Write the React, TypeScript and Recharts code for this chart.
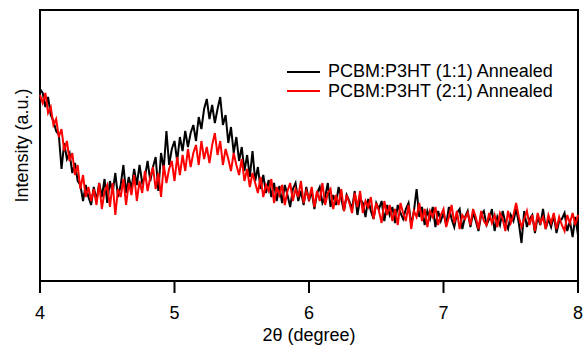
import React from 'react';
import { LineChart, Line, XAxis, YAxis, ReferenceArea } from 'recharts';

const FONT = "Arial, 'Liberation Sans', sans-serif";

// scan grid: 4.00 .. 8.00 deg, 0.02 step
const START = 4;
const STEP = 0.02;
const xTicks = [4, 5, 6, 7, 8];

const seriesNames = ['PCBM:P3HT (1:1) Annealed', 'PCBM:P3HT (2:1) Annealed'];
const seriesColors = ['#000000', '#ff0000'];

// intensity (a.u.)
const ratio11 = [
  192, 188, 174, 184, 166, 160, 150, 146, 112, 138,
  122, 128, 108, 118, 100, 96, 80, 96, 84, 76,
  94, 80, 98, 84, 102, 78, 100, 88, 108, 84,
  96, 116, 88, 104, 92, 112, 96, 116, 98, 104,
  120, 100, 114, 124, 90, 128, 112, 150, 116, 132,
  140, 120, 144, 130, 150, 134, 148, 156, 140, 164,
  152, 172, 182, 162, 176, 158, 172, 184, 156, 166,
  138, 154, 128, 144, 120, 134, 110, 126, 104, 130,
  100, 114, 92, 106, 88, 101, 84, 98, 80, 95,
  78, 96, 86, 74, 92, 98, 80, 90, 76, 94,
  80, 90, 72, 88, 94, 78, 84, 98, 74, 86,
  76, 94, 82, 70, 86, 80, 72, 90, 66, 82,
  78, 64, 82, 70, 62, 78, 72, 80, 60, 76,
  66, 74, 58, 76, 68, 62, 72, 78, 56, 70,
  92, 64, 74, 56, 70, 62, 74, 54, 70, 60,
  68, 56, 74, 62, 54, 68, 72, 52, 64, 70,
  54, 68, 60, 50, 66, 70, 56, 62, 72, 50,
  64, 56, 70, 58, 52, 66, 60, 72, 58, 38,
  70, 54, 62, 66, 48, 64, 56, 72, 52, 62,
  54, 66, 48, 60, 62, 68, 50, 60, 44, 64,
  46,
];

const ratio21 = [
  186, 178, 188, 168, 174, 156, 162, 144, 152, 130,
  140, 120, 128, 106, 116, 92, 106, 84, 94, 80,
  92, 76, 98, 72, 90, 96, 74, 98, 66, 92,
  84, 102, 76, 98, 86, 106, 80, 100, 88, 110,
  90, 104, 114, 92, 108, 84, 116, 98, 112, 120,
  100, 124, 106, 126, 110, 132, 114, 128, 136, 116,
  140, 122, 134, 118, 136, 148, 126, 140, 116, 132,
  122, 110, 128, 116, 106, 122, 100, 112, 94, 108,
  98, 88, 104, 84, 96, 90, 102, 78, 94, 86,
  96, 76, 90, 98, 80, 92, 84, 100, 78, 90,
  82, 94, 74, 90, 80, 98, 76, 88, 92, 72,
  86, 76, 92, 70, 86, 78, 68, 88, 74, 90,
  68, 80, 74, 84, 62, 78, 70, 58, 80, 66,
  76, 60, 72, 56, 78, 68, 60, 76, 52, 70,
  64, 78, 60, 72, 54, 70, 64, 74, 56, 66,
  72, 54, 64, 76, 58, 70, 52, 66, 62, 68,
  56, 72, 64, 52, 70, 60, 56, 68, 58, 66,
  54, 68, 62, 50, 70, 58, 66, 78, 64, 54,
  62, 70, 56, 66, 50, 68, 58, 64, 52, 66,
  58, 68, 52, 64, 56, 50, 66, 58, 68, 56,
  66,
];

const data = ratio11.map((v, i) => ({
  x: +(START + i * STEP).toFixed(2),
  a: v,
  b: ratio21[i],
}));

const LegendBox = () => (
  <div style={{ position: 'absolute', left: 287, top: 62, fontFamily: FONT, fontSize: 18, color: '#000' }}>
    {seriesNames.map((n, i) => (
      <div key={n} style={{ display: 'flex', alignItems: 'center', height: 19.5, whiteSpace: 'nowrap' }}>
        <svg width={33} height={4} style={{ marginRight: 8 }}>
          <line x1={0} x2={33} y1={2} y2={2} stroke={seriesColors[i]} strokeWidth={2} />
        </svg>
        <span>{n}</span>
      </div>
    ))}
  </div>
);

export default function App() {
  return (
    <div style={{ position: 'absolute', left: 0, top: 0, width: 585, height: 347, background: '#fff' }}>
      <LineChart width={585} height={347} data={data} margin={{ top: 10, right: 7, left: 0, bottom: 0 }}>
        <XAxis
          dataKey="x"
          type="number"
          domain={[4, 8]}
          ticks={xTicks}
          height={66}
          tickSize={12}
          tickMargin={13}
          axisLine={{ stroke: '#000', strokeWidth: 2 }}
          tickLine={{ stroke: '#000', strokeWidth: 2 }}
          tick={{ fill: '#000', fontSize: 18, fontFamily: FONT }}
          label={{ value: '2θ (degree)', position: 'insideBottom', offset: 6, fill: '#000', fontSize: 18, fontFamily: FONT }}
        />
        <YAxis
          width={40}
          domain={[0, 271]}
          tick={false}
          tickLine={false}
          axisLine={false}
          label={{ value: 'Intensity (a.u.)', angle: -90, position: 'center', dx: 2, fill: '#000', fontSize: 18, fontFamily: FONT }}
        />
        <ReferenceArea x1={4} x2={8} y1={0} y2={271} fill="none" stroke="#000" strokeWidth={2} ifOverflow="visible" />
        <Line dataKey="a" type="linear" stroke={seriesColors[0]} strokeWidth={2} dot={false} isAnimationActive={false} />
        <Line dataKey="b" type="linear" stroke={seriesColors[1]} strokeWidth={2} dot={false} isAnimationActive={false} />
      </LineChart>
      <LegendBox />
    </div>
  );
}
